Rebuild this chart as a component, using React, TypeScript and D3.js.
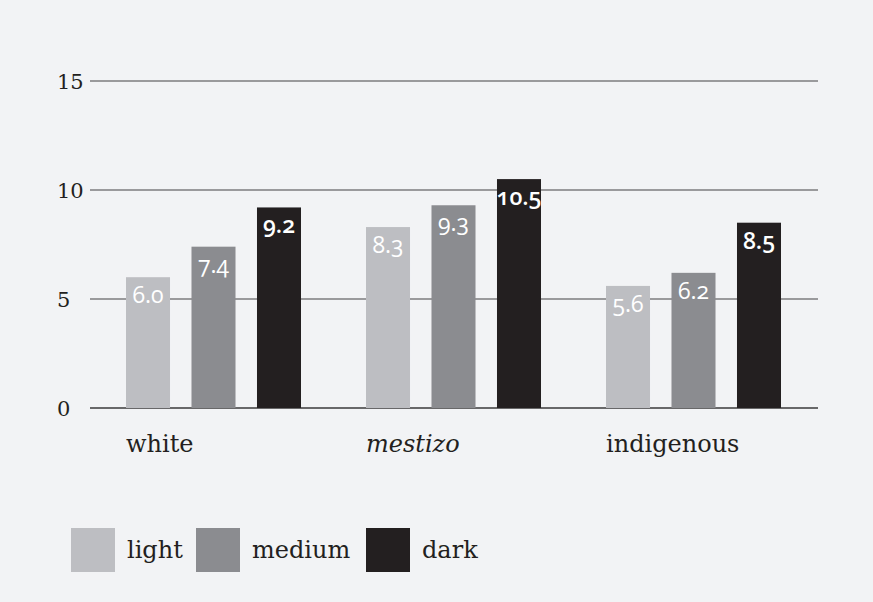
import React from "react";
import * as d3 from "d3";

// Groups, shades and the value of each shade within each group
const categories = ["white", "mestizo", "indigenous"];
const italicCategories = ["mestizo"];
const shades = ["light", "medium", "dark"];
const lightValues = [6.0, 8.3, 5.6];
const mediumValues = [7.4, 9.3, 6.2];
const darkValues = [9.2, 10.5, 8.5];
const yTicks = [0, 5, 10, 15];

const seriesValues = [lightValues, mediumValues, darkValues];
const shadeColors = ["#bdbec2", "#8b8c90", "#231f20"];

const W = 873;
const H = 602;
const BG = "#f2f3f5";
const serif = "'DejaVu Serif', 'Liberation Serif', serif";
const sans = "'Open Sans', 'Noto Sans', sans-serif";

export default function App() {
  const y = d3.scaleLinear().domain([0, 15]).range([408, 81]);
  const x0 = d3.scaleBand<string>().domain(categories).range([126, 846]).paddingInner(0).paddingOuter(0).align(0);
  const x1 = d3.scaleBand<string>().domain(shades).range([0, 175]).paddingInner(0.328).paddingOuter(0);
  const barW = x1.bandwidth();

  return (
    <div style={{ position: "absolute", left: 0, top: 0, width: W, height: H, background: BG }}>
      <svg width={W} height={H} style={{ display: "block" }}>
        <rect width={W} height={H} fill={BG} />
        {/* horizontal grid and axis labels */}
        {yTicks.map((t) => (
          <g key={t}>
            <line x1={90} x2={818} y1={y(t)} y2={y(t)} stroke={t === 0 ? "#3a3a3a" : "#7c7c7e"} strokeWidth={1.5} />
            <text x={57} y={y(t)} dy="0.36em" fontFamily={serif} fontSize={21} fill="#231f20">
              {t}
            </text>
          </g>
        ))}
        {/* bars */}
        {categories.map((c, ci) => (
          <g key={c} transform={`translate(${x0(c)},0)`}>
            {shades.map((s, si) => {
              const v = seriesValues[si][ci];
              const bx = x1(s)!;
              return (
                <g key={s}>
                  <rect x={bx} y={y(v)} width={barW} height={y(0) - y(v)} fill={shadeColors[si]} />
                  <text
                    x={bx + barW / 2}
                    y={y(v) + 26}
                    textAnchor="middle"
                    fontFamily={sans}
                    fontSize={23}
                    fontWeight={si === 2 ? 600 : 500}
                    fill="#ffffff"
                    style={{ fontVariantNumeric: "oldstyle-nums" }}
                  >
                    {v.toFixed(1)}
                  </text>
                </g>
              );
            })}
            <text
              x={0}
              y={452}
              fontFamily={serif}
              fontSize={24}
              fontStyle={italicCategories.includes(c) ? "italic" : "normal"}
              fill="#231f20"
            >
              {c}
            </text>
          </g>
        ))}
        {/* legend */}
        {shades.map((s, i) => {
          const lx = [71, 196, 366][i];
          return (
            <g key={s}>
              <rect x={lx} y={528} width={44} height={44} fill={shadeColors[i]} />
              <text x={lx + 56} y={558} fontFamily={serif} fontSize={24} fill="#231f20">
                {s}
              </text>
            </g>
          );
        })}
      </svg>
    </div>
  );
}
